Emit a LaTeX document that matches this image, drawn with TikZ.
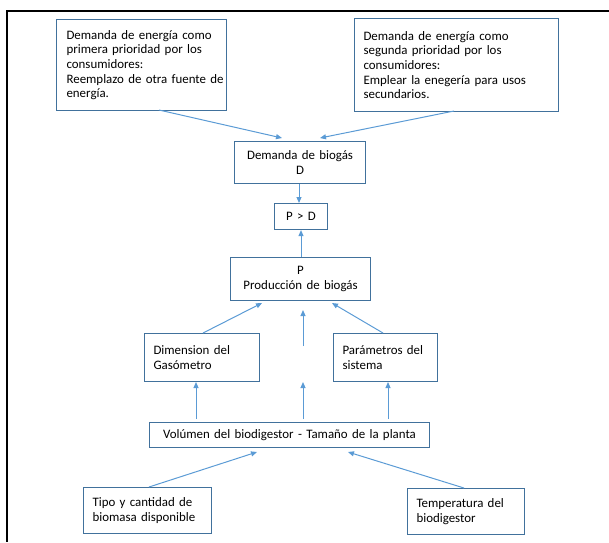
\documentclass[tikz,border=0pt]{standalone}
\usepackage{fontspec}
\setmainfont{Carlito}
\usetikzlibrary{arrows.meta}
\definecolor{boxblue}{HTML}{41719C}
\definecolor{arrblue}{HTML}{5B9BD5}
\newcommand{\indA}{\hspace*{9pt}}
\newcommand{\indB}{\hspace*{10pt}}
\begin{document}
\begin{tikzpicture}[x=1pt,y=-1pt,
  bx/.style={draw=boxblue, line width=1.1pt, anchor=north west, inner xsep=0pt, inner ysep=0pt,
     font=\fontsize{12.9pt}{14.6pt}\selectfont, text=black},
  lbx/.style={bx, align=left},
  cbx/.style={bx, align=center},
  arr/.style={draw=arrblue, line width=1pt, -{Triangle[length=6pt,width=5pt]}}]
\useasboundingbox (0,0) rectangle (609,542);
% frame
\coordinate (fa) at (609,11);
\coordinate (fb) at (7,11);
\coordinate (fc) at (7,542);
\draw[line width=1.8pt, black] (fa) -- (fb) -- (fc);
% boxes
\node[lbx, minimum width=170pt, minimum height=91pt, text width=170pt] (b1) at (56,19)
  {\indB Demanda de energía como\\\indB primera prioridad por los\\\indB consumidores:\\\indB Reemplazo de otra fuente de\\\indB energía.};
\node[lbx, minimum width=204pt, minimum height=93pt, text width=204pt] (b2) at (354,18)
  {\indA Demanda de energía como\\\indA segunda prioridad por los\\\indA consumidores:\\\indA Emplear la enegería para usos\\\indA secundarios.};
\node[cbx, minimum width=131pt, minimum height=42pt, text width=131pt] (dem) at (234,141)
  {Demanda de biogás\\D};
\node[cbx, minimum width=53pt, minimum height=26pt, text width=53pt] (pd) at (274,203)
  {P > D};
\node[cbx, minimum width=140pt, minimum height=43pt, text width=140pt] (prod) at (230,257)
  {P\\Producción de biogás};
\node[lbx, minimum width=115pt, minimum height=48pt, text width=115pt] (gas) at (144,333)
  {\indA Dimension del\\\indA Gasómetro};
\node[lbx, minimum width=104pt, minimum height=48pt, text width=104pt] (par) at (333,333)
  {\indA Parámetros del\\\indA sistema};
\node[cbx, minimum width=280pt, minimum height=25pt, text width=280pt] (vol) at (149,422)
  {Volúmen del biodigestor - Tamaño de la planta};
\node[lbx, minimum width=128pt, minimum height=46pt, text width=128pt] (tipo) at (83,487)
  {\indA Tipo y cantidad de\\\indA biomasa disponible};
\node[lbx, minimum width=117pt, minimum height=46pt, text width=117pt] (temp) at (407,488)
  {\indA Temperatura del\\\indA biodigestor};
% arrow end points
\coordinate (a1s) at (159,110); \coordinate (a1e) at (282,138);
\coordinate (a2s) at (454,111); \coordinate (a2e) at (320,138);
\coordinate (a5s) at (203,333); \coordinate (a5e) at (262,303);
\coordinate (a6s) at (303,346); \coordinate (a6e) at (303,310);
\coordinate (a7s) at (383,333); \coordinate (a7e) at (332,303);
\coordinate (a8s) at (196,419); \coordinate (a8e) at (196,382);
\coordinate (a9s) at (303,419); \coordinate (a9e) at (303,382);
\coordinate (a10s) at (388,419); \coordinate (a10e) at (388,382);
\coordinate (a11s) at (149,487); \coordinate (a11e) at (257,452);
\coordinate (a12s) at (464,488); \coordinate (a12e) at (348,452);
% arrows
\draw[arr] (a1s) -- (a1e);
\draw[arr] (a2s) -- (a2e);
\draw[arr] (dem.south -| 299,0) -- (pd.north -| 299,0);
\draw[arr] (prod.north -| 301,0) -- (pd.south -| 301,0);
\draw[arr] (a5s) -- (a5e);
\draw[arr] (a6s) -- (a6e);
\draw[arr] (a7s) -- (a7e);
\draw[arr] (a8s) -- (a8e);
\draw[arr] (a9s) -- (a9e);
\draw[arr] (a10s) -- (a10e);
\draw[arr] (a11s) -- (a11e);
\draw[arr] (a12s) -- (a12e);
\end{tikzpicture}
\end{document}
